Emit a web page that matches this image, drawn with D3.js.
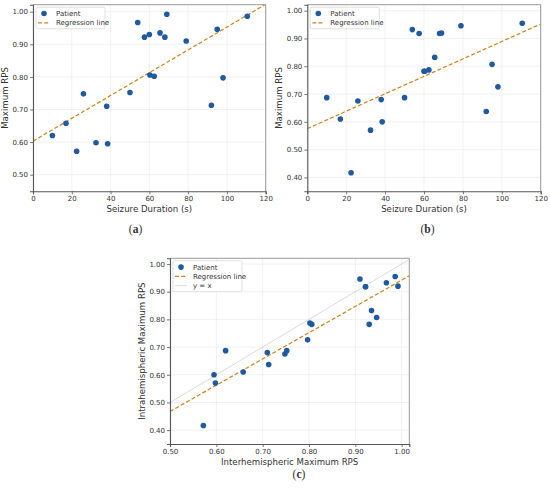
<!DOCTYPE html>
<html><head><meta charset="utf-8">
<script src="https://cdn.jsdelivr.net/npm/d3@7"></script>
<style>
body{margin:0;background:#fff;}
svg{display:block;}
text{font-family:"DejaVu Sans",sans-serif;fill:#333;}
</style></head>
<body>
<svg id="chart" width="550" height="493"></svg>
<script>
// Data (one entry per patient)
const seizureDuration = [10,17,22.5,26,32.5,38,38.5,50,54,57.5,60,60.3,62.5,65.5,68,69,79,92,95,98,110.5];
const interMaxRPS = [0.62,0.658,0.572,0.748,0.598,0.71,0.595,0.752,0.967,0.922,0.93,0.806,0.802,0.935,0.922,0.992,0.91,0.713,0.946,0.797,0.986];
const intraMaxRPS = [0.687,0.61,0.417,0.675,0.57,0.68,0.60,0.687,0.932,0.918,0.782,0.782,0.787,0.832,0.918,0.92,0.946,0.637,0.807,0.726,0.955];
const durationTicks = [0,20,40,60,80,100,120];
const rpsTicksA = [0.5,0.6,0.7,0.8,0.9,1.0];
const rpsTicksB = [0.4,0.5,0.6,0.7,0.8,0.9,1.0];
const interTicks = [0.5,0.6,0.7,0.8,0.9,1.0];

const svg = d3.select("#chart");
const dotColor = "#1f5aa0", regColor = "#d1811a";

function linreg(xs, ys){
  const n = xs.length, mx = d3.mean(xs), my = d3.mean(ys);
  let sxy=0,sxx=0;
  for(let i=0;i<n;i++){sxy+=(xs[i]-mx)*(ys[i]-my);sxx+=(xs[i]-mx)**2;}
  const b = sxy/sxx; return {a: my-b*mx, b};
}

function panel(o){
  const g = svg.append("g");
  const x = d3.scaleLinear().domain(o.xDom).range([o.l,o.r]);
  const y = d3.scaleLinear().domain(o.yDom).range([o.b,o.t]);
  const id = "clip"+o.name;
  svg.append("defs").append("clipPath").attr("id",id).append("rect")
    .attr("x",o.l).attr("y",o.t).attr("width",o.r-o.l).attr("height",o.b-o.t);
  // grid
  g.selectAll(".gx").data(o.xTicks).enter().append("line")
    .attr("x1",d=>x(d)).attr("x2",d=>x(d)).attr("y1",o.t).attr("y2",o.b)
    .attr("stroke","#ebebeb").attr("stroke-width",0.7);
  g.selectAll(".gy").data(o.yTicks).enter().append("line")
    .attr("y1",d=>y(d)).attr("y2",d=>y(d)).attr("x1",o.l).attr("x2",o.r)
    .attr("stroke","#ebebeb").attr("stroke-width",0.7);
  const pg = g.append("g").attr("clip-path",`url(#${id})`);
  if(o.identity){
    pg.append("line").attr("x1",x(o.xDom[0])).attr("y1",y(o.xDom[0]))
      .attr("x2",x(o.xDom[1])).attr("y2",y(o.xDom[1]))
      .attr("stroke","#d0d0d0").attr("stroke-width",0.8);
  }
  // points
  g.selectAll(".pt").data(o.xs.map((v,i)=>[v,o.ys[i]])).enter().append("circle")
    .attr("cx",d=>x(d[0])).attr("cy",d=>y(d[1])).attr("r",2.8).attr("fill",dotColor);
  // regression
  const r = linreg(o.xs,o.ys);
  pg.append("line").attr("x1",x(o.xDom[0])).attr("y1",y(r.a+r.b*o.xDom[0]))
    .attr("x2",x(o.xDom[1])).attr("y2",y(r.a+r.b*o.xDom[1]))
    .attr("stroke",regColor).attr("stroke-width",1.2).attr("stroke-dasharray","4,2.2");
  // spines
  g.append("line").attr("x1",o.l).attr("x2",o.r).attr("y1",o.t).attr("y2",o.t).attr("stroke","#999").attr("stroke-width",1);
  g.append("line").attr("x1",o.r).attr("x2",o.r).attr("y1",o.t).attr("y2",o.b).attr("stroke","#999").attr("stroke-width",1);
  // axes
  const xa = g.append("g").attr("transform",`translate(0,${o.b})`)
    .call(d3.axisBottom(x).tickValues(o.xTicks).tickSize(3).tickPadding(2).tickFormat(o.xFmt));
  const ya = g.append("g").attr("transform",`translate(${o.l},0)`)
    .call(d3.axisLeft(y).tickValues(o.yTicks).tickSize(3).tickPadding(2).tickFormat(d3.format(".2f")));
  [xa,ya].forEach(a=>{
    a.select(".domain").attr("stroke","#555").attr("stroke-width",1.1);
    a.selectAll(".tick line").attr("stroke","#555").attr("stroke-width",0.8);
    a.selectAll("text").attr("font-size","7px").attr("fill","#444").style("font-family","DejaVu Sans");
  });
  // labels
  g.append("text").attr("x",(o.l+o.r)/2).attr("y",o.b+20.5).attr("text-anchor","middle")
    .attr("font-size","8.6px").text(o.xLabel);
  g.append("text").attr("transform",`translate(${o.yLabX},${(o.t+o.b)/2}) rotate(-90)`)
    .attr("text-anchor","middle").attr("font-size","8.6px").text(o.yLabel);
  // legend
  const items = [{t:"Patient",k:"dot"},{t:"Regression line",k:"reg"}];
  if(o.identity) items.push({t:"y = x",k:"id"});
  const lx = o.l+3, ly = o.t+2.5, lh = 9.3;
  g.append("rect").attr("x",lx).attr("y",ly).attr("width",o.legW).attr("height",items.length*lh+3)
    .attr("fill","#fff").attr("fill-opacity",0.85).attr("stroke","#d8d8d8").attr("stroke-width",0.8).attr("rx",1.5);
  items.forEach((it,i)=>{
    const cy = ly+6.3+i*lh;
    if(it.k==="dot") g.append("circle").attr("cx",lx+8).attr("cy",cy).attr("r",2.8).attr("fill",dotColor);
    if(it.k==="reg") g.append("line").attr("x1",lx+2).attr("x2",lx+14).attr("y1",cy).attr("y2",cy)
      .attr("stroke",regColor).attr("stroke-width",1.2).attr("stroke-dasharray","4,2.2");
    if(it.k==="id") g.append("line").attr("x1",lx+2).attr("x2",lx+14).attr("y1",cy).attr("y2",cy)
      .attr("stroke","#d0d0d0").attr("stroke-width",0.8);
    g.append("text").attr("x",lx+20).attr("y",cy+2.5).attr("font-size","7px").attr("fill","#333").text(it.t);
  });
  // caption
  svg.append("text").attr("x",o.capX).attr("y",o.capY).attr("text-anchor","middle")
    .style("font-family","'Liberation Serif',serif").attr("font-size","11.5px").attr("fill","#111")
    .html('(<tspan font-weight="bold">'+o.name+'</tspan>)');
}

panel({name:"a",l:33,r:265.7,t:4.7,b:191.3,xDom:[0,120],yDom:[0.449,1.0215],
  xTicks:durationTicks,yTicks:rpsTicksA,xs:seizureDuration,ys:interMaxRPS,xFmt:d3.format("d"),
  xLabel:"Seizure Duration (s)",yLabel:"Maximum RPS",yLabX:8,legW:69,capX:135.5,capY:232.5});
panel({name:"b",l:307.3,r:540.7,t:4.7,b:191.3,xDom:[0,120],yDom:[0.35,1.0216],
  xTicks:durationTicks,yTicks:rpsTicksB,xs:seizureDuration,ys:intraMaxRPS,xFmt:d3.format("d"),
  xLabel:"Seizure Duration (s)",yLabel:"Maximum RPS",yLabX:282,legW:69,capX:427.5,capY:232.5});
panel({name:"c",l:170,r:409.3,t:258.3,b:444,xDom:[0.5,1.0165],yDom:[0.35,1.0205],
  xTicks:interTicks,yTicks:rpsTicksB,xs:interMaxRPS,ys:intraMaxRPS,xFmt:d3.format(".2f"),identity:true,
  xLabel:"Interhemispheric Maximum RPS",yLabel:"Intrahemispheric Maximum RPS",yLabX:145,legW:69,capX:299,capY:478});
</script>
</body></html>
